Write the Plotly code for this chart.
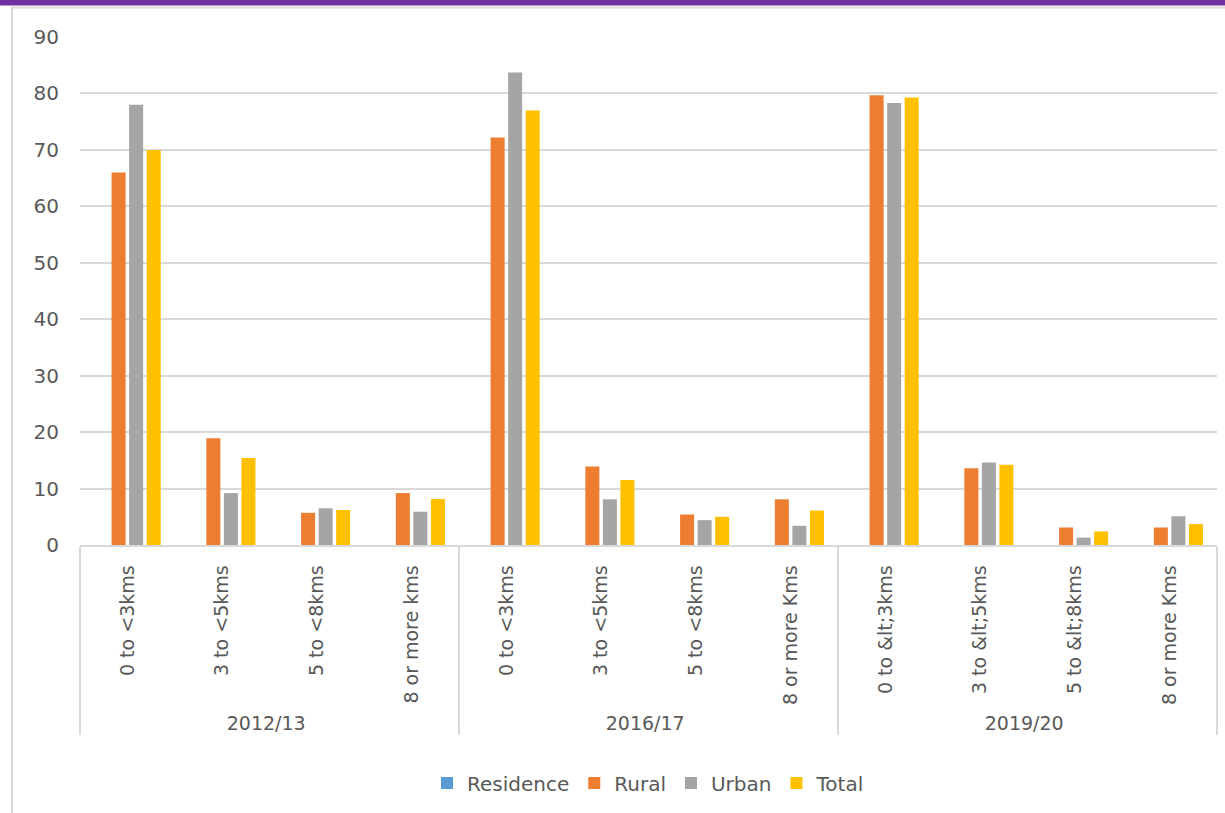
import plotly.graph_objects as go

# Survey rounds and distance bands (outer and inner category levels)
years = ["2012/13"] * 4 + ["2016/17"] * 4 + ["2019/20"] * 4
bands = [
    "0 to <3kms", "3 to <5kms", "5 to <8kms", "8 or more kms",
    "0 to <3kms", "3 to <5kms", "5 to <8kms", "8 or more Kms",
    "0 to &amp;lt;3kms", "3 to &amp;lt;5kms", "5 to &amp;lt;8kms", "8 or more Kms",
]

# Percentage of households by distance, per residence type
residence = [None] * 12
rural = [66.0, 18.9, 5.7, 9.2, 72.2, 13.9, 5.4, 8.1, 79.7, 13.6, 3.1, 3.1]
urban = [78.0, 9.2, 6.5, 5.9, 83.7, 8.1, 4.4, 3.4, 78.3, 14.6, 1.3, 5.1]
total = [70.0, 15.4, 6.2, 8.15, 77.0, 11.5, 5.0, 6.1, 79.3, 14.2, 2.4, 3.7]

series = [
    ("Residence", residence, "#5B9BD5"),
    ("Rural", rural, "#ED7D31"),
    ("Urban", urban, "#A5A5A5"),
    ("Total", total, "#FFC000"),
]

# Plotly orders multicategory bands by first appearance, so the 2016/17
# "8 or more Kms" point is fed last; that keeps both groups in sequence.
feed_order = [0, 1, 2, 3, 4, 5, 6, 8, 9, 10, 11, 7]

fig = go.Figure()
for name, vals, color in series:
    fig.add_trace(go.Bar(
        name=name,
        x=[[years[i] for i in feed_order], [bands[i] for i in feed_order]],
        y=[vals[i] for i in feed_order],
        marker=dict(color=color, line=dict(width=0)),
    ))

text_color = "#595959"
grid_color = "#D9D9D9"
font_family = "DejaVu Sans, sans-serif"

fig.update_layout(
    width=1225, height=813,
    barmode="group", bargap=0.26, bargroupgap=0.2,
    paper_bgcolor="white", plot_bgcolor="white",
    margin=dict(l=80, r=8, t=37, b=268, autoexpand=False),
    font=dict(family=font_family, color=text_color, size=18),
    showlegend=True,
    legend=dict(
        orientation="h", x=0.5, xanchor="center", y=-0.4685, yanchor="middle",
        font=dict(size=20, color=text_color, family=font_family),
        itemwidth=30, traceorder="normal",
    ),
    xaxis=dict(
        type="multicategory",
        tickangle=-90,
        tickfont=dict(size=19, color=text_color, family=font_family),
        ticklabelstandoff=11,
        showline=True, linecolor=grid_color, linewidth=1.5,
        showdividers=True, dividercolor=grid_color, dividerwidth=1.5,
        ticks="",
    ),
    yaxis=dict(
        range=[0, 90], dtick=10,
        showgrid=True, gridcolor=grid_color, gridwidth=1.5,
        zeroline=False, showline=False,
        tickfont=dict(size=20, color=text_color, family=font_family),
        ticklabelstandoff=20,
    ),
    shapes=[
        # page banner strip along the top edge
        dict(type="rect", xref="paper", yref="paper",
             x0=-0.08, x1=1.02, y0=1.062, y1=1.08,
             fillcolor="#7030A0", line=dict(width=0), layer="above"),
        # chart frame
        dict(type="rect", xref="paper", yref="paper",
             x0=-0.0598, x1=1.03, y0=-0.54, y1=1.058,
             fillcolor="rgba(0,0,0,0)", line=dict(color=grid_color, width=2),
             layer="below"),
    ],
)

fig.write_html("out.html")
